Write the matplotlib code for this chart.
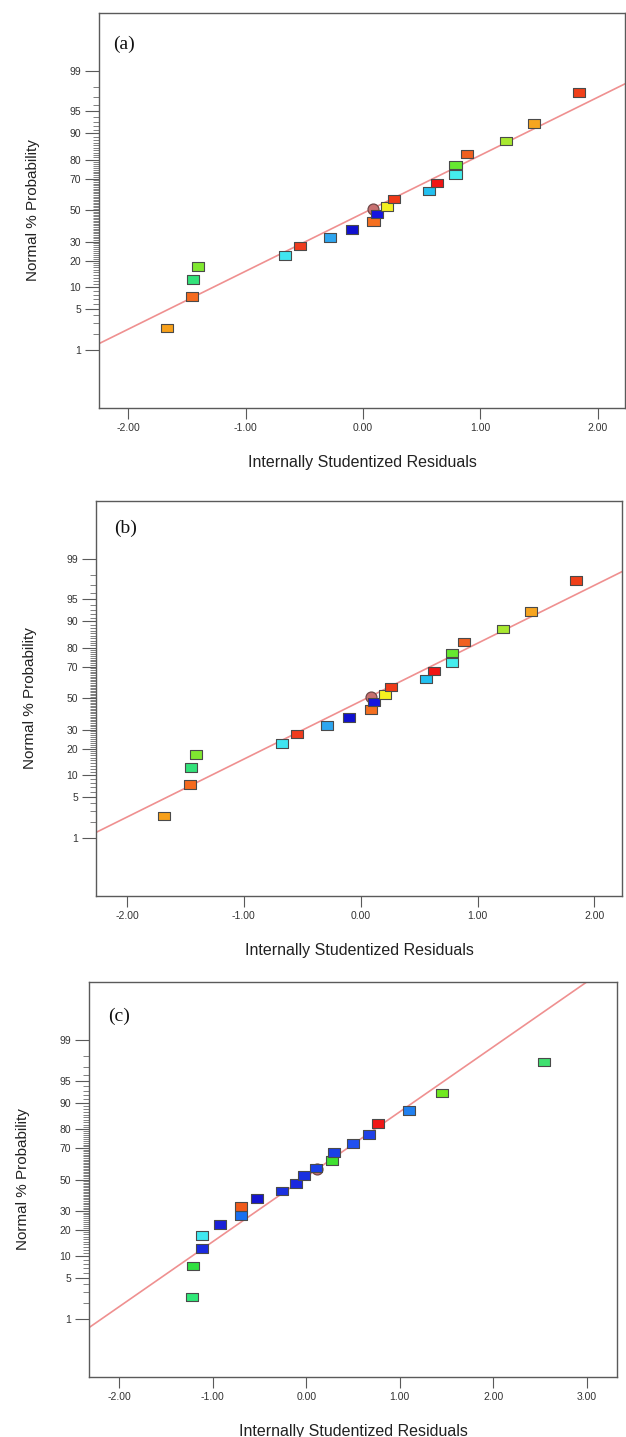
import numpy as np
import matplotlib
matplotlib.use("Agg")
import matplotlib.pyplot as plt
from matplotlib.ticker import FixedLocator, FixedFormatter, NullFormatter
from statistics import NormalDist

# ---------------- data ----------------
prob_levels = [2.5, 7.5, 12.5, 17.5, 22.5, 27.5, 32.5, 37.5, 42.5, 47.5,
               52.5, 57.5, 62.5, 67.5, 72.5, 77.5, 82.5, 87.5, 92.5, 97.5]

resid_a = [-1.67, -1.456, -1.449, -1.405, -0.665, -0.539, -0.283, -0.092, 0.089, 0.119,
           0.208, 0.263, 0.559, 0.627, 0.788, 0.788, 0.886, 1.217, 1.459, 1.845]
colors_a = ["#f7a01a", "#f56a1e", "#33e27a", "#80e830", "#40e5f0", "#f03c1e", "#2ea6f0",
            "#1010d0", "#f57020", "#1515e0", "#f5f020", "#f03a18", "#22c0f0", "#f01515",
            "#45eeee", "#66e830", "#f06020", "#a8e830", "#f7a520", "#f0401a"]
circle_a = (0.089, 50.8)
fit_a = (0.965, -0.05)

resid_b = [-1.68, -1.458, -1.452, -1.41, -0.67, -0.543, -0.287, -0.096, 0.085, 0.116,
           0.205, 0.26, 0.556, 0.624, 0.785, 0.785, 0.884, 1.215, 1.457, 1.843]
colors_b = list(colors_a)
circle_b = (0.085, 50.8)
fit_b = (0.965, -0.05)

resid_c = [-1.216, -1.208, -1.118, -1.114, -0.922, -0.696, -0.696, -0.521, -0.256, -0.107,
           -0.021, 0.107, 0.273, 0.294, 0.499, 0.674, 0.764, 1.097, 1.447, 2.540]
colors_c = ["#30e878", "#30e040", "#1a2ae0", "#40e8f0", "#1a20d8", "#1a70f0", "#f05a1a",
            "#1515d0", "#1a30e0", "#1a28e0", "#1a30e0", "#1a40e8", "#40e030", "#1a40e8",
            "#2050f0", "#2040e8", "#f01818", "#2080f0", "#70e820", "#40e070"]
circle_c = (0.12, 57.0)
fit_c = (1.0845, 0.045)

major_probs = [1, 5, 10, 20, 30, 50, 70, 80, 90, 95, 99]
x_ticks_ab = [-2.0, -1.0, 0.0, 1.0, 2.0]
x_ticks_c = [-2.0, -1.0, 0.0, 1.0, 2.0, 3.0]

# ---------------- probability scale ----------------
_nd = NormalDist()
_ppf = np.vectorize(_nd.inv_cdf, otypes=[float])
_cdf = np.vectorize(_nd.cdf, otypes=[float])


def prob_forward(p):
    p = np.asarray(p, dtype=float)
    q = np.clip(p / 100.0, 1e-12, 1 - 1e-12)
    return _ppf(q)


def prob_inverse(z):
    z = np.asarray(z, dtype=float)
    return 100.0 * _cdf(z)


SANS = ["Liberation Sans", "DejaVu Sans"]
SERIF = ["Liberation Serif", "DejaVu Serif"]

fig = plt.figure(figsize=(6.26, 14.37), dpi=100)
W, H = 626.0, 1437.0


def add_axes_px(left, top, right, bottom):
    return fig.add_axes([left / W, 1 - bottom / H, (right - left) / W, (bottom - top) / H])


square = [(-0.7, -0.5), (0.7, -0.5), (0.7, 0.5), (-0.7, 0.5), (-0.7, -0.5)]

panels = [
    dict(box=(99, 12.7, 625, 407.7), xlim=(-2.251, 2.233), xt=x_ticks_ab,
         r=resid_a, col=colors_a, circ=circle_a, fit=fit_a, label="(a)", lab_off=(13.7, 31.3)),
    dict(box=(96, 500.7, 622, 895.7), xlim=(-2.265, 2.236), xt=x_ticks_ab,
         r=resid_b, col=colors_b, circ=circle_b, fit=fit_b, label="(b)", lab_off=(17.8, 27.6)),
    dict(box=(89, 982.3, 617, 1376.7), xlim=(-2.32, 3.32), xt=x_ticks_c,
         r=resid_c, col=colors_c, circ=circle_c, fit=fit_c, label="(c)", lab_off=(19.6, 34.4)),
]

minor_probs = [v for v in range(1, 100) if v not in major_probs]

for pn in panels:
    l, t, r, b = pn["box"]
    ax = add_axes_px(l, t, r, b)
    ax.set_yscale("function", functions=(prob_forward, prob_inverse))
    ax.set_xlim(*pn["xlim"])
    ax.set_ylim(0.0502, 99.9498)

    # fit line
    xl = np.array(pn["xlim"])
    s, c0 = pn["fit"]
    ax.plot(xl, prob_inverse(s * xl + c0), color="#ef9090", lw=1.2, zorder=2)

    # centre circle
    ax.scatter([pn["circ"][0]], [pn["circ"][1]], marker="o", s=62, c="#c87070",
               edgecolors="#704848", linewidths=0.9, zorder=3)
    # points
    ax.scatter(pn["r"], prob_levels, marker=square, s=75, c=pn["col"],
               edgecolors="#4a4a4a", linewidths=0.8, zorder=4)

    # axes styling
    for sp in ax.spines.values():
        sp.set_color("#5a5a5a")
        sp.set_linewidth(1.0)
    ax.yaxis.set_major_locator(FixedLocator(major_probs))
    ax.yaxis.set_major_formatter(FixedFormatter([str(v) for v in major_probs]))
    ax.yaxis.set_minor_locator(FixedLocator(minor_probs))
    ax.yaxis.set_minor_formatter(NullFormatter())
    ax.xaxis.set_major_locator(FixedLocator(pn["xt"]))
    ax.xaxis.set_major_formatter(FixedFormatter(["%.2f" % v for v in pn["xt"]]))
    ax.xaxis.set_minor_locator(FixedLocator([]))

    ax.tick_params(axis="y", which="major", direction="out", length=10, width=0.8,
                   color="#5a5a5a", pad=3, labelsize=7.5, labelcolor="#333333")
    ax.tick_params(axis="y", which="minor", direction="out", length=4, width=0.6,
                   color="#6a6a6a")
    ax.tick_params(axis="x", which="major", direction="out", length=8, width=0.8,
                   color="#5a5a5a", pad=3, labelsize=7.5, labelcolor="#333333")
    for lab in ax.get_xticklabels() + ax.get_yticklabels():
        lab.set_fontfamily(SANS)

    ax.set_ylabel("Normal % Probability", fontsize=11, family=SANS, color="#222222", labelpad=21)
    ax.set_xlabel("Internally Studentized Residuals", fontsize=11.5, family=SANS,
                  color="#222222", labelpad=16)

    ox, oy = pn["lab_off"]
    ax.text(ox / (r - l), 1 - oy / (b - t), pn["label"], transform=ax.transAxes,
            fontsize=14, family=SERIF, ha="left", va="center", color="#111111")

fig.savefig("out.png", dpi=100)
